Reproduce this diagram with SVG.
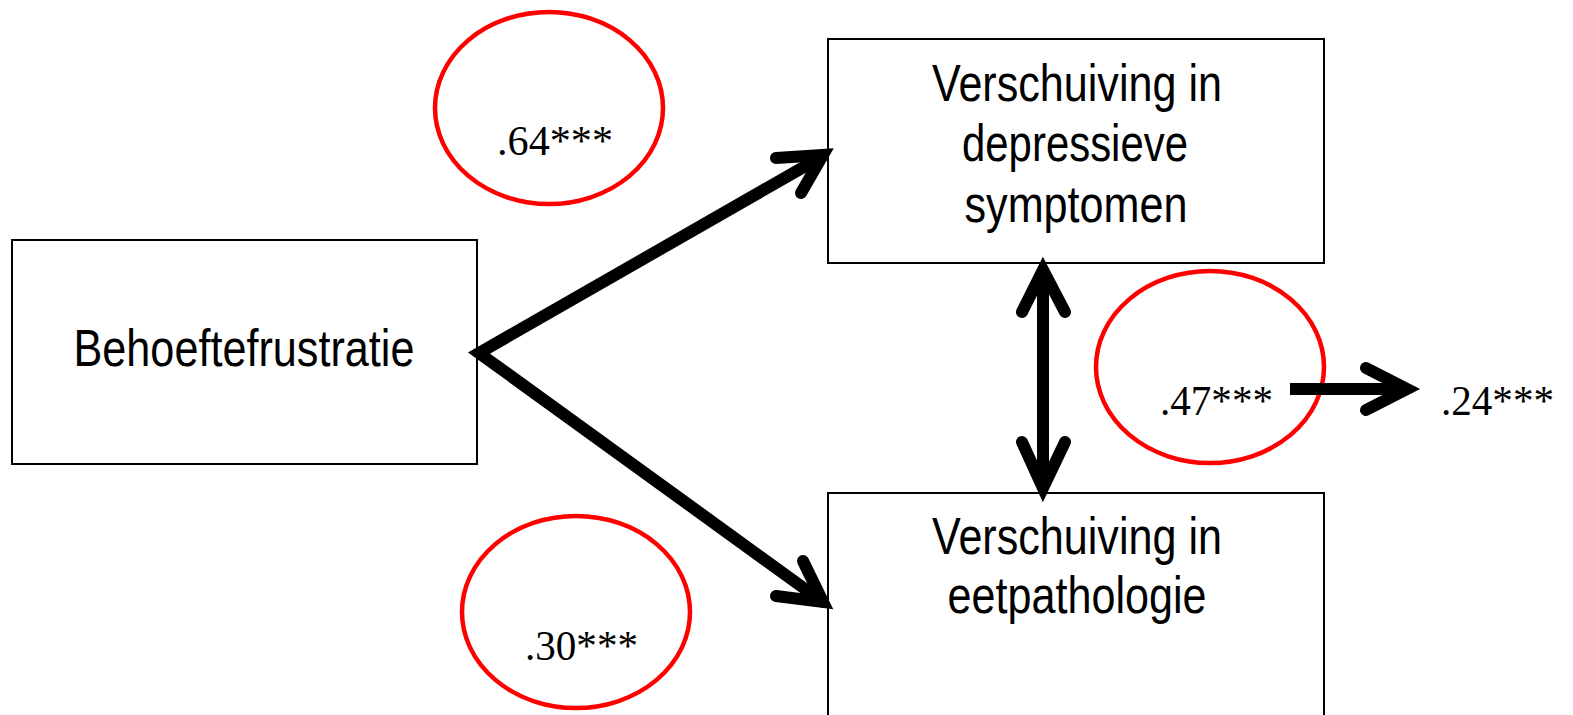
<svg xmlns="http://www.w3.org/2000/svg" width="1573" height="715" viewBox="0 0 1573 715">
  <style>
    .box { fill: #ffffff; stroke: #000000; stroke-width: 2; }
    .lbl { font-family: "Liberation Sans Narrow", "Arial Narrow", "Liberation Sans", sans-serif; font-size: 52px; fill: #000000; text-anchor: middle; }
    .coef { font-family: "Liberation Serif", "Times New Roman", serif; font-size: 42px; fill: #000000; }
    .ring { fill: none; stroke: #ff0000; stroke-width: 4.5; }
    .shaft { fill: none; stroke: #000000; stroke-width: 12; stroke-linecap: butt; }
    .head { fill: none; stroke: #000000; stroke-width: 12; stroke-linecap: round; stroke-linejoin: miter; stroke-miterlimit: 10; }
  </style>
  <rect width="1573" height="715" fill="#ffffff"/>

  <!-- Coefficient ellipses -->
  <g id="coef-064">
    <ellipse class="ring" cx="549" cy="108" rx="114" ry="96"/>
    <text class="coef" x="497" y="155" textLength="116" lengthAdjust="spacingAndGlyphs">.64***</text>
  </g>
  <g id="coef-030">
    <ellipse class="ring" cx="576" cy="612" rx="114" ry="96"/>
    <text class="coef" x="525" y="660" textLength="113" lengthAdjust="spacingAndGlyphs">.30***</text>
  </g>
  <g id="coef-047">
    <ellipse class="ring" cx="1210" cy="367" rx="114" ry="96"/>
    <text class="coef" x="1160" y="415" textLength="113" lengthAdjust="spacingAndGlyphs">.47***</text>
  </g>
  <g id="coef-024">
    <text class="coef" x="1441" y="415" textLength="113" lengthAdjust="spacingAndGlyphs">.24***</text>
  </g>

  <!-- Variables -->
  <g id="node-behoeftefrustratie">
    <rect class="box" x="12" y="240" width="465" height="224"/>
    <text class="lbl" x="244" y="366" textLength="341" lengthAdjust="spacingAndGlyphs">Behoeftefrustratie</text>
  </g>
  <g id="node-depressie">
    <rect class="box" x="828" y="39" width="496" height="224"/>
    <text class="lbl" x="1077" y="101" textLength="290" lengthAdjust="spacingAndGlyphs">Verschuiving in</text>
    <text class="lbl" x="1075" y="161" textLength="226" lengthAdjust="spacingAndGlyphs">depressieve</text>
    <text class="lbl" x="1076" y="222" textLength="223" lengthAdjust="spacingAndGlyphs">symptomen</text>
  </g>
  <g id="node-eetpathologie">
    <rect class="box" x="828" y="493" width="496" height="240"/>
    <text class="lbl" x="1077" y="554" textLength="290" lengthAdjust="spacingAndGlyphs">Verschuiving in</text>
    <text class="lbl" x="1077" y="613" textLength="259" lengthAdjust="spacingAndGlyphs">eetpathologie</text>
  </g>

  <!-- Paths between variables -->
  <g id="connectors">
    <!-- Behoeftefrustratie -> depressieve symptomen / eetpathologie -->
    <path class="head" d="M 823 156 L 479 353 L 823 602" stroke-linecap="butt"/>
    <path class="head" d="M 776 158 L 823 155 L 801 193"/>
    <path class="head" d="M 803 561 L 823 602 L 776 596"/>
    <!-- correlation between the two shifts -->
    <line class="shaft" x1="1043" y1="272" x2="1043" y2="486"/>
    <path class="head" d="M 1022 312 L 1043 270 L 1065 312"/>
    <path class="head" d="M 1022 442 L 1043 488 L 1065 442"/>
    <!-- .47 -> .24 -->
    <line class="shaft" x1="1290" y1="389" x2="1405" y2="389"/>
    <path class="head" d="M 1366 368 L 1407 389 L 1366 410"/>
  </g>
</svg>
